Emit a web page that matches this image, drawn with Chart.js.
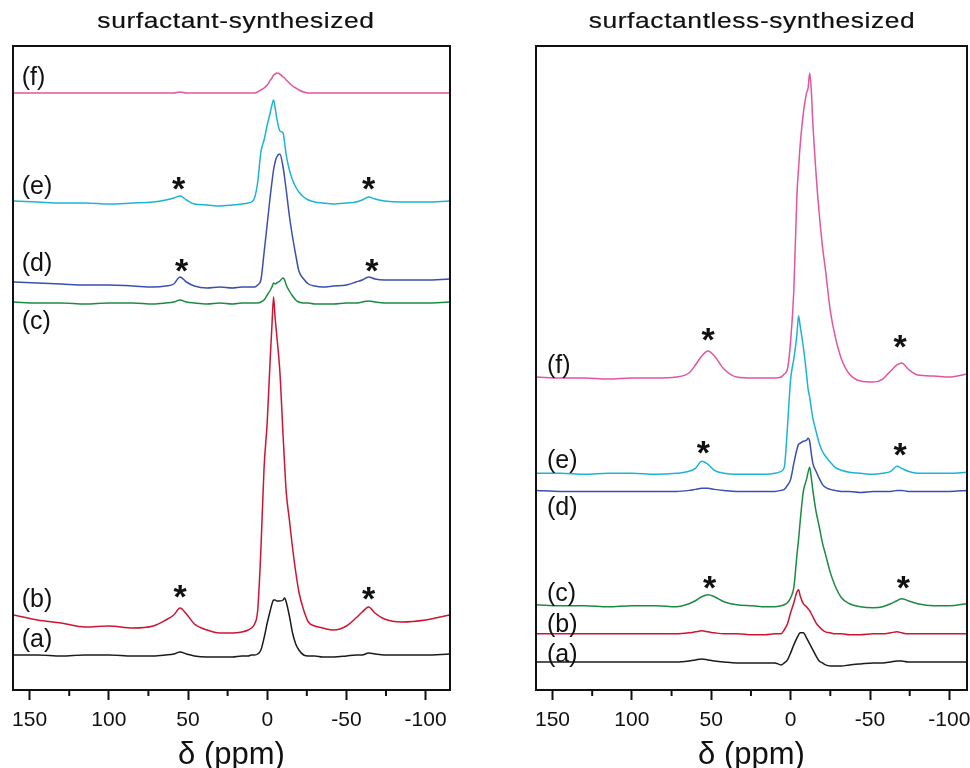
<!DOCTYPE html>
<html>
<head>
<meta charset="utf-8">
<script src="https://cdn.jsdelivr.net/npm/chart.js@4.4.1/dist/chart.umd.min.js"></script>
<style>
  body { margin: 0; background: #fff; overflow: hidden; width: 970px; height: 768px; position: relative;
         font-family: "Liberation Sans", Arial, sans-serif; }
  .panel { position: absolute; top: 0; }
  .ttl { position: absolute; top: 10px; font-size: 22px; line-height: 22px; letter-spacing: 0.5px;
         text-align: center; color: #111; white-space: nowrap; transform: scaleX(1.2);
         -webkit-text-stroke: 0.2px #111; }
</style>
</head>
<body>
<canvas id="leftChart" class="panel" style="left:0" width="480" height="768"></canvas>
<canvas id="rightChart" class="panel" style="left:490px" width="510" height="768"></canvas>
<div class="ttl" style="left:86px;width:300px">surfactant-synthesized</div>
<div class="ttl" style="left:582px;width:340px">surfactantless-synthesized</div>
<script>
// chemical shift grids (ppm) and stacked intensities (arbitrary units, offset per trace)
const ppmLeft = [160, 145, 130, 115, 100, 85, 72, 64, 59, 55, 51, 46, 38, 30, 22, 16, 12, 10, 8, 6,
  4, 2, 0, -2, -3, -4, -5, -6, -8, -10, -11, -12, -14, -16, -18, -20, -23, -26, -30, -35,
  -42, -50, -56, -60, -64, -68, -74, -85, -100, -115];
const leftA = [35,35,34,35,35,34,34,35,36,38, 36,34,33,33,33,34,34,35,35,36,
  40,52,67,80,86,90,90,89,89,90, 92,88,74,57,46,40,35,34,34,33, 33,34,35,35,37,36,35,35,35,36];
const leftB = [75,70,67,63,64,62,64,70,75,82, 76,66,60,57,57,58,60,62,66,80,
  140,222,268,335,365,393,372,355,318,255, 225,198,170,142,118,98,80,68,64,62, 60,64,72,78,83,77,71,68,70,75];
const leftC = [388,387,387,386,387,387,386,387,388,390, 388,387,386,387,386,387,387,387,387,387,
  388,390,395,400,403,407,406,407,409,412, 410,405,399,394,390,388,387,387,386,386, 386,387,387,388,389,388,387,387,387,388];
const leftD = [408,407,406,405,405,404,403,404,406,413, 408,404,402,403,402,403,403,403,403,405,
  410,437,466,495,508,520,528,533,536,523, 512,500,474,453,435,419,411,406,404,403, 404,405,408,410,413,411,410,410,410,411];
const leftE = [489,488,487,487,486,487,488,490,492,494, 490,486,485,484,485,486,487,488,492,508,
  538,550,565,578,585,590,582,572,559,557, 547,535,520,510,503,498,493,490,488,487, 486,487,488,490,493,491,489,488,488,489];
const leftF = [597,597,597,597,597,597,597,597,597,598, 597,597,597,597,597,597,597,597,597,598,
  600,602,605,610,612,615,616,617,616,613, 612,610,607,604,602,600,598,597,597,597, 597,597,597,597,597,597,597,597,597,597];

const ppmRight = [160, 145, 130, 115, 100, 85, 72, 64, 60, 56, 52, 48, 42, 34, 24, 16, 10, 6, 4, 2,
  0, -2, -4, -5, -6, -8, -10, -11, -12, -13, -14, -16, -18, -20, -22, -25, -28, -32, -37, -44,
  -52, -58, -63, -67, -70, -74, -80, -90, -100, -111];
const rightA = [28,28,28,28,28,28,28,29,30,31, 30,29,28,27,27,27,27,25,27,30,
  37,45,52,55,57,57,52,49,46,43, 40,34,29,27,25,24,24,24,25,26, 27,27,28,29,29,28,28,28,28,28];
const rightB = [56,56,56,56,56,56,56,57,58,59, 58,57,56,56,55,55,56,56,60,66,
  77,87,98,100,94,86,83,81,79,76, 73,67,63,60,58,57,56,56,55,55, 56,56,57,58,57,56,56,56,56,56];
const rightC = [85,84,84,83,84,84,83,86,89,93, 95,93,88,85,84,83,83,84,85,87,
  92,102,135,150,168,198,210,217,222,212, 199,178,163,147,135,117,104,92,86,83, 82,83,86,89,91,89,86,84,84,86];
const rightD = [199,198,198,198,198,198,198,199,200,201, 201,200,199,198,198,198,198,199,200,204,
  210,226,240,245,246,248,249,251,248,236, 226,218,211,205,202,200,199,198,198,197, 198,198,198,199,199,198,198,198,198,199];
const rightE = [216,216,215,216,216,215,216,218,221,228, 225,219,216,215,215,215,216,218,222,262,
  310,330,355,373,363,342,315,300,292,281, 271,258,246,238,233,227,222,219,217,216, 215,216,218,223,221,218,216,216,216,217];
const rightF = [312,311,311,310,311,311,312,316,324,333, 338,333,320,312,311,311,311,312,315,320,
  348,398,495,520,543,575,595,600,615,598, 565,515,475,443,418,378,353,330,315,308, 307,310,318,324,326,320,314,313,312,315];

const traceTags = ['(a)', '(b)', '(c)', '(d)', '(e)', '(f)'];
const traceColors = ['#1b1b1b', '#cc1533', '#1c8a43', '#3a4fae', '#1cb4d4', '#e2559f'];
const leftTagY = [50, 90, 368, 426, 503, 612];
const rightTagY = [35, 65, 96, 181, 228, 323];
// spinning sidebands: [ppm, height]
const leftStars = [[56, 510], [-64, 510], [54, 428], [-66, 428], [55, 102], [-64, 100]];
const rightStars = [[52, 358], [-69, 351], [55, 245], [-69, 243], [51, 111], [-71, 111]];
const minorTicks = [125, 75, 25, -25, -75];

const framePlugin = {
  id: 'frame',
  afterDraw(chart, args, opts) {
    const ctx = chart.ctx, a = chart.chartArea, x = chart.scales.x, y = chart.scales.y;
    ctx.save();
    ctx.strokeStyle = '#111';
    ctx.lineWidth = 2;
    ctx.strokeRect(a.left, a.top, a.right - a.left, a.bottom - a.top);
    ctx.beginPath();
    minorTicks.forEach(v => {
      const px = x.getPixelForValue(v);
      ctx.moveTo(px, a.bottom);
      ctx.lineTo(px, a.bottom + 6);
    });
    ctx.stroke();
    ctx.fillStyle = '#111';
    ctx.font = '25px "Liberation Sans", Arial, sans-serif';
    ctx.textAlign = 'left';
    ctx.textBaseline = 'middle';
    opts.tagY.forEach((v, i) => {
      ctx.fillText(traceTags[i], x.getPixelForValue(opts.tagPpm), y.getPixelForValue(v));
    });
    ctx.font = 'bold 34px "Liberation Sans", Arial, sans-serif';
    ctx.textAlign = 'center';
    ctx.textBaseline = 'alphabetic';
    opts.stars.forEach(s => {
      ctx.fillText('*', x.getPixelForValue(s[0]), y.getPixelForValue(s[1]) + 20);
    });
    ctx.restore();
  }
};

function makeChart(id, ppm, series, xMin, xMax, yMax, pad, tagPpm, tagY, stars) {
  const datasets = series.map((vals, i) => ({
    data: ppm.map((p, k) => ({ x: p, y: vals[k] })),
    borderColor: traceColors[i],
    borderWidth: 1.5,
    pointRadius: 0,
    cubicInterpolationMode: 'monotone',
    fill: false
  }));
  return new Chart(document.getElementById(id), {
    type: 'line',
    data: { datasets },
    plugins: [framePlugin],
    options: {
      responsive: false,
      animation: false,
      layout: { padding: pad },
      plugins: {
        legend: { display: false },
        tooltip: { enabled: false },
        frame: { tagPpm, tagY, stars }
      },
      scales: {
        x: {
          type: 'linear',
          reverse: true,
          min: xMin,
          max: xMax,
          afterFit: s => { s.height = 78; },
          border: { display: false },
          grid: { drawOnChartArea: false, drawTicks: true, tickLength: 10, tickWidth: 2, tickColor: '#111' },
          ticks: {
            stepSize: 50,
            includeBounds: false,
            autoSkip: false,
            maxRotation: 0,
            padding: 8,
            color: '#111',
            font: { family: '"Liberation Sans", Arial, sans-serif', size: 21 }
          },
          title: {
            display: true,
            text: 'δ (ppm)',
            color: '#111',
            padding: 0,
            font: { family: '"Liberation Sans", Arial, sans-serif', size: 31, lineHeight: 0.8 }
          }
        },
        y: { display: false, min: 0, max: yMax }
      }
    }
  });
}

makeChart('leftChart', ppmLeft, [leftA, leftB, leftC, leftD, leftE, leftF],
  -115.4, 160.5, 644, { left: 13, right: 30, top: 46, bottom: 0 }, 155, leftTagY, leftStars);
makeChart('rightChart', ppmRight, [rightA, rightB, rightC, rightD, rightE, rightF],
  -111.1, 160.4, 642, { left: 46, right: 33, top: 46, bottom: 0 }, 153.5, rightTagY, rightStars);
</script>
</body>
</html>
